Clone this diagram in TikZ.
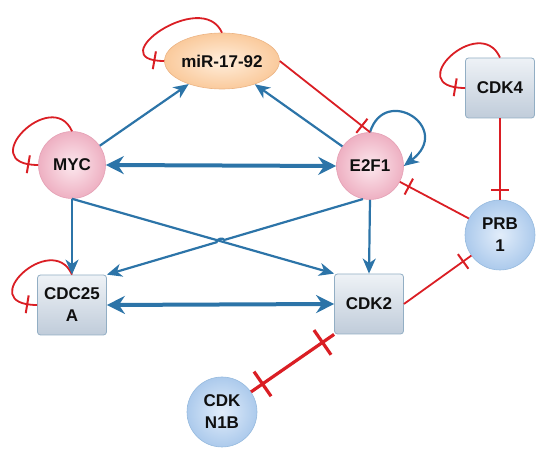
\documentclass[tikz,border=0pt]{standalone}
\usepackage{fontspec}
\setmainfont{Liberation Sans}
\usepackage{xcolor}
\usetikzlibrary{arrows.meta,positioning,calc,decorations.markings,shapes.geometric}
\definecolor{actblue}{RGB}{44,116,168}
\definecolor{inhred}{RGB}{218,30,36}
\definecolor{genetext}{RGB}{15,15,15}
\definecolor{pinkfill}{RGB}{238,176,194}
\definecolor{pinkhi}{RGB}{252,232,238}
\definecolor{pinkedge}{RGB}{228,160,180}
\definecolor{bluefill}{RGB}{172,202,236}
\definecolor{bluehi}{RGB}{226,237,250}
\definecolor{blueedge}{RGB}{150,186,222}
\definecolor{boxtop}{RGB}{238,242,246}
\definecolor{boxbot}{RGB}{192,204,218}
\definecolor{boxedge}{RGB}{146,174,196}
\definecolor{mirfill}{RGB}{250,202,156}
\definecolor{mirhi}{RGB}{255,238,220}
\definecolor{miredge}{RGB}{236,180,132}
\newcommand{\genefont}{\fontsize{17}{22}\selectfont\bfseries}

\begin{document}
\begin{tikzpicture}[x=1pt,y=1pt,font=\genefont,
  act/.style={actblue,line width=2.2pt,-{Stealth[length=15pt,width=13pt,inset=4.5pt]}},
  dact/.style={actblue,line width=4pt,
    {Stealth[length=18pt,width=18pt,inset=6pt]}-{Stealth[length=18pt,width=18pt,inset=6pt]}},
  inh/.style={inhred,line width=1.8pt,postaction={decorate},
    decoration={markings,mark=at position -10pt with
      {\draw[inhred,line width=2pt] (0,-9pt) -- (0,9pt);}}},
  dinh/.style={inhred,line width=3.2pt,postaction={decorate},
    decoration={markings,
      mark=at position 14pt with {\draw[inhred,line width=3.2pt] (0,-15pt) -- (0,15pt);},
      mark=at position -14pt with {\draw[inhred,line width=3.2pt] (0,-15pt) -- (0,15pt);}}},
  pinkgene/.style={circle,minimum size=67pt,inner sep=0pt,text=genetext,
    draw=pinkedge,line width=0.6pt,inner color=pinkhi,outer color=pinkfill},
  bluegene/.style={circle,minimum size=70pt,inner sep=0pt,align=center,text=genetext,
    draw=blueedge,line width=0.6pt,inner color=bluehi,outer color=bluefill},
  kinase/.style={rectangle,rounded corners=3pt,minimum width=69pt,minimum height=60pt,
    inner sep=0pt,align=center,text=genetext,
    draw=boxedge,line width=0.8pt,top color=boxtop,bottom color=boxbot},
  mirna/.style={ellipse,minimum width=95pt,minimum height=56pt,inner sep=0pt,text=genetext,
    draw=miredge,line width=0.6pt,inner color=mirhi,outer color=mirfill}]
  \useasboundingbox (0,0) rectangle (550,455);

  % genes
  \node[mirna] (mir) at (222,394) {miR-17-92};
  \node[pinkgene] (myc) at (72,290) {MYC};
  \node[pinkgene] (e2f) at (370,289) {E2F1};
  \node[kinase] (cdk4) at (500,367) {CDK4};
  \node[bluegene] (prb) at (500,220) {PRB\\1};
  \node[kinase] (cdc) at (72,150) {CDC25\\A};
  \node[kinase] (cdk2) at (369,151) {CDK2};
  \node[bluegene] (kn1b) at (222,43) {CDK\\N1B};

  % self loops
  \draw[inh] (mir.north) .. controls +(-20,45) and +(-65,0) .. (mir.west);
  \draw[inh] (myc.north) .. controls +(-20,45) and +(-65,0) .. (myc.west);
  \draw[inh] (cdc.north) .. controls +(-20,45) and +(-65,0) .. (cdc.west);
  \draw[inh] (cdk4.north) .. controls +(-20,45) and +(-65,0) .. (cdk4.west);
  \draw[act] (e2f.north) .. controls +(15,48) and +(50,38) .. (e2f.east);

  % activation
  \draw[act] (myc) -- (mir);
  \draw[act] (e2f) -- (mir);
  \draw[dact] (myc.east) -- (e2f.west);
  \draw[act] (myc.south) -- (cdc.north);
  \draw[act] (e2f.south) -- (cdk2.north);
  \draw[dact] (cdc.east) -- (cdk2.west);
  \coordinate (mycout) at (myc.south);
  \coordinate (cdkin) at (cdk2.north west);
  \coordinate (e2fout) at (e2f.258);
  \coordinate (cdcin) at (cdc.north east);
  \draw[act] (mycout) -- (cdkin);
  \coordinate (hop) at (intersection of mycout--cdkin and e2fout--cdcin);
  \draw[act] (e2fout) -- ($(hop)!4pt!(e2fout)$) to[bend right=90]
    ($(hop)!4pt!(cdcin)$) -- (cdcin);

  % inhibition
  \draw[inh] (mir.east) -- (e2f.north);
  \draw[inh] (cdk4.south) -- (prb.north);
  \draw[inh] (prb) -- (e2f);
  \draw[inh] (cdk2.east) -- (prb);
  \draw[dinh] (kn1b) -- (cdk2.south west);
\end{tikzpicture}
\end{document}
